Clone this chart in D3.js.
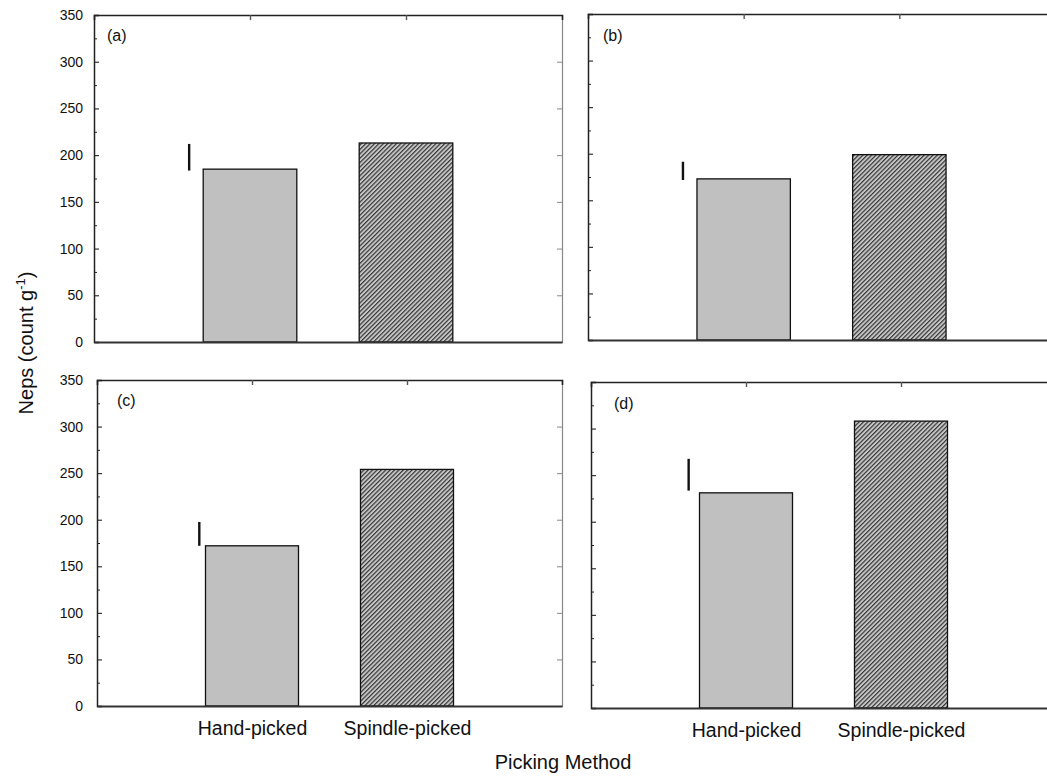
<!DOCTYPE html>
<html>
<head>
<meta charset="utf-8">
<script src="https://cdn.jsdelivr.net/npm/d3@7/dist/d3.min.js"></script>
<style>
  body { margin: 0; background: #fff; }
  svg { display: block; font-family: "Liberation Sans", Arial, sans-serif; }
</style>
</head>
<body>
<svg id="chart" width="1047" height="780"></svg>
<script>
// ---- data ----
const panelLabels = ["(a)", "(b)", "(c)", "(d)"];
const categories = ["Hand-picked", "Spindle-picked"];
const handValues = [185, 173, 172, 231];
const spindleValues = [213, 199, 254, 308];
const lsdLow = [183.5, 171.8, 172, 233.4];
const lsdHigh = [212, 191.4, 197.6, 267.5];
const lsdPos = [0.61, 0.61, 0.66, 0.63];
const yMajorTicks = [0, 50, 100, 150, 200, 250, 300, 350];
const yMinorTicks = [25, 75, 125, 175, 225, 275, 325];
const yLabelText = "Neps (count g";
const yLabelSup = "-1";
const xTitle = "Picking Method";

// ---- layout ----
const layout = [
  { left: 94,  right: 562,  top: 15,  bottom: 342, labX: 13, labY: 26, showY: true,  showX: false, pad: 11 },
  { left: 588, right: 1055, top: 14,  bottom: 340, labX: 15, labY: 27, showY: false, showX: false, pad: 0 },
  { left: 97,  right: 562,  top: 380, bottom: 706, labX: 20, labY: 26, showY: true,  showX: true,  pad: 14 },
  { left: 591, right: 1056, top: 382, bottom: 708, labX: 23, labY: 27, showY: false, showX: true,  pad: 0 }
];
const font = '"Liberation Sans", Arial, sans-serif';

const svg = d3.select("#chart");
const defs = svg.append("defs");
const pat = defs.append("pattern")
  .attr("id", "hatch").attr("patternUnits", "userSpaceOnUse")
  .attr("width", 3.1).attr("height", 3.1)
  .attr("patternTransform", "rotate(45)");
pat.append("rect").attr("width", 3.1).attr("height", 3.1).attr("fill", "#c6c6c6");
pat.append("line").attr("x1", 0.6).attr("y1", 0).attr("x2", 0.6).attr("y2", 3.1)
  .attr("stroke", "#2a2a2a").attr("stroke-width", 1.1);

layout.forEach((L, i) => {
  const x = d3.scaleLinear().domain([0, 3]).range([L.left, L.right]);
  const y = d3.scaleLinear().domain([0, 350]).range([L.bottom, L.top]);
  const g = svg.append("g");
  const barW = x(0.6) - x(0);

  const bars = [
    { cat: 1, v: handValues[i], fill: "#c0c0c0" },
    { cat: 2, v: spindleValues[i], fill: "url(#hatch)" }
  ];
  g.selectAll("rect.bar").data(bars).enter().append("rect")
    .attr("class", "bar")
    .attr("x", d => x(d.cat) - barW / 2)
    .attr("width", barW)
    .attr("y", d => y(d.v))
    .attr("height", d => y(0) - y(d.v))
    .attr("fill", d => d.fill)
    .attr("stroke", "#111").attr("stroke-width", 1.3);

  // LSD bar
  g.append("line")
    .attr("x1", x(lsdPos[i])).attr("x2", x(lsdPos[i]))
    .attr("y1", y(lsdLow[i])).attr("y2", y(lsdHigh[i]))
    .attr("stroke", "#111").attr("stroke-width", 2.4);

  // left axis major
  const ax = d3.axisLeft(y).tickValues(yMajorTicks).tickSize(-5).tickPadding(L.pad)
    .tickFormat(L.showY ? d3.format("d") : () => "");
  const gA = g.append("g").attr("transform", `translate(${L.left},0)`).call(ax);
  gA.select(".domain").attr("stroke", "#222").attr("stroke-width", 1.5);
  gA.selectAll(".tick line").attr("stroke", "#222").attr("stroke-width", 1.1);
  gA.selectAll(".tick text").attr("font-size", 14).attr("font-family", font).attr("fill", "#111");
  // left minor
  const axm = d3.axisLeft(y).tickValues(yMinorTicks).tickSize(-3).tickFormat(() => "");
  const gM = g.append("g").attr("transform", `translate(${L.left},0)`).call(axm);
  gM.select(".domain").remove();
  gM.selectAll(".tick line").attr("stroke", "#222").attr("stroke-width", 1);

  // right border with inward major ticks
  const axr = d3.axisRight(y).tickValues(yMajorTicks).tickSize(-5).tickFormat(() => "");
  const gR = g.append("g").attr("transform", `translate(${L.right},0)`).call(axr);
  gR.select(".domain").attr("stroke", "#888").attr("stroke-width", 1.2);
  gR.selectAll(".tick line").attr("stroke", "#888").attr("stroke-width", 1);

  // top border with category ticks
  const axt = d3.axisTop(x).tickValues([1, 2]).tickSize(-5).tickFormat(() => "");
  const gT = g.append("g").attr("transform", `translate(0,${L.top})`).call(axt);
  gT.select(".domain").attr("stroke", "#222").attr("stroke-width", 1.6);
  gT.selectAll(".tick line").attr("stroke", "#555").attr("stroke-width", 1.4);

  // bottom axis
  const axb = d3.axisBottom(x).tickValues([1, 2]).tickSize(0).tickPadding(28)
    .tickFormat((d) => L.showX ? categories[d - 1] : "");
  const gB = g.append("g").attr("transform", `translate(0,${L.bottom})`).call(axb);
  gB.select(".domain").attr("stroke", "#333").attr("stroke-width", 2);
  gB.selectAll(".tick text").attr("font-size", 19.5).attr("font-family", font)
    .attr("fill", "#111").attr("dy", 0).attr("y", 29);

  // panel label
  g.append("text").attr("x", L.left + L.labX).attr("y", L.top + L.labY)
    .attr("font-size", 16).attr("font-family", font).attr("fill", "#111")
    .text(panelLabels[i]);
});

// y-axis title
const yt = svg.append("text")
  .attr("transform", "translate(33,343) rotate(-90)")
  .attr("text-anchor", "middle").attr("font-size", 20).attr("font-family", font).attr("fill", "#111");
yt.append("tspan").text(yLabelText);
yt.append("tspan").attr("dy", -8).attr("font-size", 13).text(yLabelSup);
yt.append("tspan").attr("dy", 8).text(")");

// x-axis title
svg.append("text").attr("x", 563).attr("y", 769).attr("text-anchor", "middle")
  .attr("font-size", 20).attr("font-family", font).attr("fill", "#111").text(xTitle);
</script>
</body>
</html>
